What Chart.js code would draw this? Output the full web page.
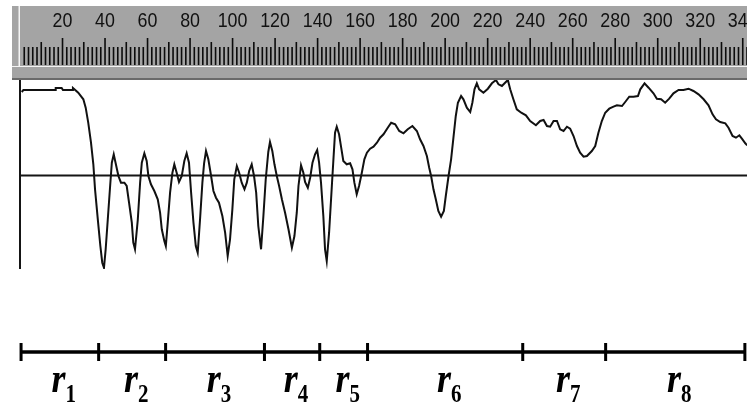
<!DOCTYPE html>
<html>
<head>
<title>Signal segments</title>
<script src="https://cdn.jsdelivr.net/npm/chart.js"></script>
<style>
    html, body { margin: 0; padding: 0; background: #fff; }
    #wrap { width: 747px; height: 405px; position: relative; }
</style>
</head>
<body>
<div id="wrap"><canvas id="signalChart"></canvas></div>
<script>
// samples: position on the ruler and amplitude
const sampleX = [0.8, 1.6, 16.5, 16.8, 19.6, 20.2, 24.5, 24.9, 27.4, 29.8, 30.9, 32.1, 33.4, 34.5, 35.3, 36.6, 37.8, 38.7, 39.5, 40.3,
    41.3, 42.4, 43.2, 44.1, 45.0, 46.3, 47.5, 49.1, 50.2, 51.3, 52.6, 53.3, 54.1, 55.4, 56.5, 57.3, 58.5, 59.6, 60.4, 61.6,
    63.2, 64.8, 65.9, 66.7, 67.9, 68.6, 69.5, 70.6, 71.7, 72.6, 73.7, 74.8, 76.1, 77.3, 78.4, 79.5, 80.5, 81.6, 82.7, 83.6,
    84.7, 85.8, 86.6, 87.5, 88.6, 89.9, 91.0, 92.2, 93.6, 95.2, 96.5, 97.7, 98.8, 99.9, 100.8, 102.0, 103.1, 104.3, 105.6, 106.7,
    107.8, 109.0, 110.1, 111.1, 112.1, 113.4, 114.5, 115.6, 116.8, 117.6, 118.7, 119.7, 120.8, 121.9, 123.2, 124.7, 126.3, 127.9, 129.1, 130.2,
    131.0, 132.2, 133.3, 134.1, 135.4, 136.5, 137.6, 138.8, 139.8, 140.7, 141.6, 142.7, 143.5, 144.3, 145.4, 146.7, 147.4, 148.2, 149.0, 150.1,
    151.1, 152.1, 153.7, 155.3, 156.4, 157.3, 158.4, 159.5, 160.8, 162.0, 163.2, 164.7, 166.3, 167.9, 169.4, 171.0, 173.0, 174.6, 176.5, 178.4,
    180.4, 182.4, 184.6, 186.7, 188.2, 189.8, 191.4, 192.5, 193.4, 194.5, 195.6, 196.8, 198.1, 199.4, 200.3, 201.6, 202.8, 203.9, 205.0, 206.0,
    207.5, 208.6, 210.2, 211.8, 212.8, 213.8, 214.9, 216.0, 218.0, 220.1, 222.0, 223.9, 225.1, 226.7, 228.2, 229.5, 230.6, 232.1, 233.7, 235.8,
    238.0, 240.0, 242.7, 244.7, 246.3, 247.9, 249.4, 251.0, 252.6, 254.1, 255.7, 257.3, 258.8, 260.4, 262.0, 263.5, 265.1, 266.7, 269.0, 270.6,
    272.1, 273.7, 275.3, 277.2, 279.2, 280.8, 283.2, 284.7, 286.6, 288.6, 290.7, 291.8, 293.8, 295.7, 298.0, 299.6, 301.6, 303.5, 305.4, 307.4,
    309.8, 312.1, 314.5, 316.8, 319.2, 321.6, 323.9, 325.8, 327.4, 329.4, 331.8, 333.3, 335.2, 336.8, 338.4, 339.6, 341.2, 342.1];
const sampleY = [83.5, 85.5, 85.5, 87.5, 87.5, 85.5, 85.5, 87.5, 82.8, 76.2, 67.8, 52.8, 32.8, 11.2, -13.8, -43.8, -70.5, -87.2, -92.2, -73.8,
    -43.8, -10.5, 12.8, 21.2, 12.2, -0.5, -7.2, -7.2, -10.5, -27.2, -47.2, -67.2, -73.8, -44.5, -7.2, 12.8, 22.2, 14.5, -0.5, -8.8,
    -15.5, -23.8, -37.2, -53.8, -65.5, -70.5, -47.2, -17.2, 2.8, 11.2, 2.8, -6.5, -0.5, 14.5, 22.2, 12.8, -17.2, -47.2, -70.5, -77.2,
    -43.8, -7.2, 12.2, 24.5, 16.2, -0.5, -15.5, -22.2, -27.2, -40.5, -57.2, -80.5, -63.8, -33.8, -3.8, 9.5, 2.8, -7.2, -13.8, -7.2,
    4.5, 11.2, -0.5, -17.2, -50.5, -73.8, -40.5, -3.8, 23.5, 33.5, 24.5, 11.2, -0.5, -10.5, -23.8, -37.2, -53.8, -72.2, -60.5, -37.2,
    -10.5, 10.2, 2.8, -6.5, -12.2, -2.2, 12.8, 21.2, 25.5, 12.8, -7.2, -40.5, -73.8, -85.5, -57.2, -10.5, 14.5, 42.8, 48.8, 41.2,
    27.8, 14.5, 11.2, 12.2, 6.2, -7.2, -18.8, -10.5, 2.8, 16.2, 22.8, 26.8, 28.8, 32.8, 37.8, 41.2, 47.8, 52.8, 51.2, 44.5,
    42.2, 46.2, 49.5, 44.5, 36.2, 29.5, 19.5, 7.8, -0.5, -13.8, -23.8, -35.5, -41.2, -35.5, -20.5, -0.5, 16.2, 37.8, 59.5, 72.8,
    79.5, 76.2, 67.8, 63.5, 72.8, 86.2, 92.2, 86.2, 82.8, 86.8, 92.2, 95.5, 91.2, 89.5, 92.8, 95.5, 86.2, 76.2, 66.2, 62.8,
    60.2, 54.5, 50.2, 54.5, 55.5, 49.5, 48.8, 54.5, 54.5, 46.2, 44.5, 48.8, 46.8, 39.5, 29.5, 22.8, 18.8, 19.5, 24.5, 29.5,
    42.8, 54.5, 62.8, 66.8, 68.8, 70.2, 69.5, 73.5, 78.8, 78.8, 79.5, 86.2, 92.2, 87.8, 82.2, 76.8, 76.2, 72.8, 76.8, 82.2,
    85.5, 85.5, 86.8, 84.5, 81.2, 76.2, 70.2, 61.2, 56.2, 53.5, 52.2, 47.8, 39.5, 37.8, 40.2, 36.8, 32.2, 30.2];

// ruler numbers along the top
const rulerLabels = [20, 40, 60, 80, 100, 120, 140, 160, 180, 200, 220, 240, 260, 280, 300, 320, 340];

// segment boundaries (ruler units) and their names
const segmentEdges = [0.5, 37, 68.5, 115, 141, 163.5, 236.5, 275.5, 341];
const segmentNames = ['1', '2', '3', '4', '5', '6', '7', '8'];

const points = sampleX.map((v, i) => ({ x: v, y: sampleY[i] }));

const rulerPlugin = {
    id: 'ruler',
    beforeDraw(chart) {
        const { ctx, width, scales: { x } } = chart;
        ctx.save();
        ctx.fillStyle = '#fff';
        ctx.fillRect(0, 0, width, chart.height);
        // gray ruler body
        ctx.fillStyle = '#a4a4a4';
        ctx.fillRect(12, 6, width - 12, 74);
        ctx.fillStyle = '#f4f4f4';
        ctx.fillRect(18.5, 6, 1.5, 60);
        ctx.fillRect(12, 66, width - 12, 1);
        ctx.fillStyle = '#6a6a6a';
        ctx.fillRect(12, 78, width - 12, 2);

        // ruler ticks every 2 units, longer at 10 and 20
        ctx.strokeStyle = '#0c0c0c';
        ctx.lineWidth = 1.6;
        ctx.beginPath();
        for (let v = 2; v <= 342; v += 2) {
            const px = x.getPixelForValue(v);
            const top = v % 20 === 0 ? 38 : (v % 10 === 0 ? 42 : 47);
            ctx.moveTo(px, top);
            ctx.lineTo(px, 65);
        }
        ctx.stroke();

        ctx.fillStyle = '#111';
        ctx.font = '21px "Liberation Sans", Arial, sans-serif';
        ctx.textAlign = 'center';
        ctx.textBaseline = 'middle';
        rulerLabels.forEach(v => {
            ctx.save();
            ctx.translate(x.getPixelForValue(v), 21);
            ctx.scale(0.85, 1);
            ctx.fillText(String(v), 0, 0);
            ctx.restore();
        });
        ctx.restore();
    },
    beforeDatasetsDraw(chart) {
        const { ctx, chartArea, scales: { x, y } } = chart;
        ctx.save();
        ctx.strokeStyle = '#151515';
        ctx.lineWidth = 2;
        ctx.beginPath();
        const y0 = y.getPixelForValue(0);
        ctx.moveTo(chartArea.left, y0);
        ctx.lineTo(chartArea.right, y0);
        const x0 = x.getPixelForValue(0);
        ctx.moveTo(x0, chartArea.top);
        ctx.lineTo(x0, chartArea.bottom);
        ctx.stroke();
        ctx.restore();
    },
    afterDraw(chart) {
        const { ctx, scales: { x } } = chart;
        const barY = 352;
        ctx.save();
        ctx.strokeStyle = '#000';
        ctx.lineWidth = 3.5;
        ctx.beginPath();
        ctx.moveTo(x.getPixelForValue(segmentEdges[0]), barY);
        ctx.lineTo(x.getPixelForValue(segmentEdges[segmentEdges.length - 1]), barY);
        ctx.stroke();
        ctx.lineWidth = 3;
        ctx.beginPath();
        segmentEdges.forEach(v => {
            const px = x.getPixelForValue(v);
            ctx.moveTo(px, barY - 9);
            ctx.lineTo(px, barY + 9);
        });
        ctx.stroke();

        ctx.fillStyle = '#000';
        ctx.textBaseline = 'alphabetic';
        ctx.textAlign = 'left';
        const rFont = 'italic bold 36px "Liberation Serif", "Times New Roman", serif';
        const subFont = 'bold 21px "Liberation Serif", "Times New Roman", serif';
        segmentNames.forEach((name, i) => {
            const mid = (x.getPixelForValue(segmentEdges[i]) + x.getPixelForValue(segmentEdges[i + 1])) / 2 + 4;
            ctx.font = rFont;
            const rw = ctx.measureText('r').width;
            ctx.font = subFont;
            const sw = ctx.measureText(name).width;
            const start = mid - (rw + sw) / 2;
            ctx.save();
            ctx.translate(start, 392);
            ctx.scale(1, 1.2);
            ctx.font = rFont;
            ctx.fillText('r', 0, 0);
            ctx.restore();
            ctx.save();
            ctx.translate(start + rw, 401.5);
            ctx.scale(1, 1.2);
            ctx.font = subFont;
            ctx.fillText(name, 0, 0);
            ctx.restore();
        });
        ctx.restore();
    }
};

new Chart(document.getElementById('signalChart'), {
    type: 'line',
    data: {
        datasets: [{
            data: points,
            borderColor: '#111',
            borderWidth: 2,
            pointRadius: 0,
            tension: 0,
            fill: false
        }]
    },
    options: {
        responsive: true,
        maintainAspectRatio: false,
        animation: false,
        layout: { padding: { left: 20, top: 80, right: 0, bottom: 136 } },
        plugins: { legend: { display: false }, tooltip: { enabled: false } },
        scales: {
            x: { type: 'linear', min: 0, max: 342, display: false },
            y: { min: -93.5, max: 95.5, display: false }
        }
    },
    plugins: [rulerPlugin]
});
</script>
</body>
</html>
